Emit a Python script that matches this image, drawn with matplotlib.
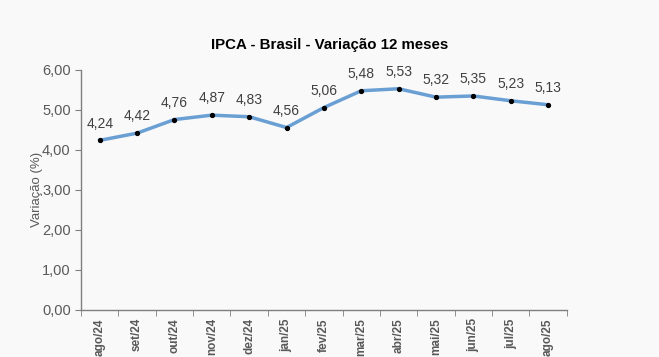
import numpy as np
import matplotlib.pyplot as plt
from matplotlib.ticker import FixedLocator, FuncFormatter

plt.rcParams['font.family'] = ['Liberation Sans', 'DejaVu Sans']

# Data
months = ['ago/24', 'set/24', 'out/24', 'nov/24', 'dez/24', 'jan/25', 'fev/25',
          'mar/25', 'abr/25', 'mai/25', 'jun/25', 'jul/25', 'ago/25']
ipca_12m = [4.24, 4.42, 4.76, 4.87, 4.83, 4.56, 5.06,
            5.48, 5.53, 5.32, 5.35, 5.23, 5.13]
y_ticks = [0, 1, 2, 3, 4, 5, 6]

bg = '#f9f9f9'
text_gray = '#595959'
axis_gray = '#7f7f7f'

fig = plt.figure(figsize=(6.59, 3.57), dpi=100, facecolor=bg)
ax = fig.add_axes([0.123, 0.132, 0.737, 0.672], facecolor=bg)

x = np.arange(len(months))
ax.plot(x, ipca_12m, color='#6a9fd4', linewidth=2.5, zorder=2)
ax.plot(x, ipca_12m, 'o', color='black', markersize=2.8, zorder=3)

for xi, v in zip(x, ipca_12m):
    ax.annotate(f'{v:.2f}'.replace('.', ','), (xi, v), xytext=(0, 7),
                textcoords='offset points', ha='center', va='bottom',
                fontsize=10, color='#404040')

ax.set_xlim(-0.5, len(months) - 0.5)
ax.set_ylim(0, 6)

# category labels at centers, tick marks at boundaries
ax.set_xticks(x)
ax.set_xticklabels(months, rotation=90, fontsize=8.5, fontweight='bold', color=text_gray)
ax.tick_params(axis='x', which='major', length=0, pad=6)
ax.xaxis.set_minor_locator(FixedLocator(np.arange(-0.5, len(months), 1)))
ax.tick_params(axis='x', which='minor', length=4, color=axis_gray, direction='out')

ax.set_yticks(y_ticks)
ax.yaxis.set_major_formatter(FuncFormatter(lambda v, p: f'{v:.2f}'.replace('.', ',')))
ax.tick_params(axis='y', length=4, color=axis_gray, labelsize=10.5, labelcolor=text_gray)

ax.set_ylabel('Variação (%)', fontsize=9.5, color=text_gray, labelpad=-1)

for side in ['top', 'right']:
    ax.spines[side].set_visible(False)
for side in ['left', 'bottom']:
    ax.spines[side].set_color(axis_gray)
    ax.spines[side].set_linewidth(1.0)

fig.text(0.5, 0.875, 'IPCA - Brasil - Variação 12 meses', ha='center', va='center',
         fontsize=10.8, fontweight='bold', color='black')

fig.savefig('out.png', dpi=100, facecolor=bg)
